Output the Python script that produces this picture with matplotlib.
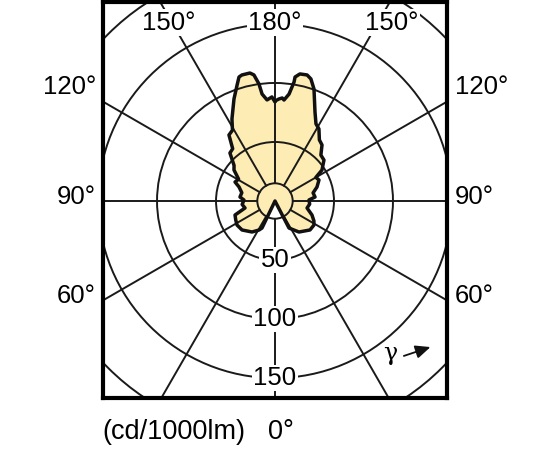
import matplotlib.pyplot as plt
from matplotlib.patches import Circle, Polygon
import numpy as np

plt.rcParams['font.family'] = ['Liberation Sans', 'DejaVu Sans']

# luminous intensity (cd/1000lm) vs gamma
right_gamma = [0, 27.4, 37.7, 50.4, 58.4, 63, 69.3, 77.7, 85, 91.7, 95.7, 102, 108.4, 115.5,
               120, 123.4, 129.9, 135, 140, 144, 148.6, 152, 155.8, 160.8, 163.6, 165.7,
               168.9, 170.8, 170.9, 172.5, 174.9, 176, 177.8, 180]
right_I = [0, 25.8, 33.2, 38.5, 38.8, 37.0, 33.5, 27.8, 29.5, 28.8, 34.1, 33.0, 37.5, 41.3,
           40.0, 47.7, 54.1, 55.0, 62, 64.0, 71.5, 74.0, 82.7, 100.5, 107.8, 110.2,
           109.7, 106.4, 102.1, 91.4, 85.9, 87.5, 86.5, 84.7]
left_gamma = [0, 25.7, 28.9, 36.6, 48.7, 57.7, 64, 70.7, 76.9, 84, 91.8, 96.5, 104, 111.3,
              115.4, 121, 127.1, 131, 136.8, 141, 145.1, 149, 152.3, 158.1, 161.9, 163.8,
              165.3, 168.9, 170.5, 172.2, 173.1, 175.5, 178.3, 180]
left_I = [0, 25.4, 28.1, 32.7, 37.2, 38.1, 37.0, 35.9, 26.1, 28.0, 26.3, 29.9, 29.0, 32.7,
          37.5, 36.0, 43.6, 46.0, 55.8, 57.0, 68.2, 70.0, 78.5, 93.2, 103.4, 109.4,
          110.4, 110.5, 108.3, 100.1, 91.3, 85.9, 88.2, 83.9]

rings = [50, 100, 150, 200]
ring_labels = ['50', '100', '150']
hub = 15
spoke_angles = np.arange(0, 360, 30)

fs = 18.5

fig = plt.figure(figsize=(5.5, 4.5), dpi=100)
ax = fig.add_axes([103 / 550, 1 - 398 / 450, 344 / 550, 396 / 450])
ax.set_xlim(-145.8, 145.8)
ax.set_ylim(-166.9, 168.6)
ax.set_xticks([])
ax.set_yticks([])
for s in ax.spines.values():
    s.set_linewidth(3)
    s.set_zorder(10)

# curve, 0 deg pointing down
g_r = np.radians(right_gamma)
g_l = np.radians(left_gamma)
xr = np.array(right_I) * np.sin(g_r)
yr = -np.array(right_I) * np.cos(g_r)
xl = -np.array(left_I) * np.sin(g_l)
yl = -np.array(left_I) * np.cos(g_l)
xs = np.concatenate([xr, xl[::-1]])
ys = np.concatenate([yr, yl[::-1]])
ax.add_patch(Polygon(np.column_stack([xs, ys]), closed=True, facecolor='#fdecb4',
                     edgecolor='none', zorder=1))

# grid
for r in rings:
    ax.add_patch(Circle((0, 0), r, fill=False, edgecolor='#1a1a1a', lw=1.4, zorder=3))
ax.add_patch(Circle((0, 0), hub, fill=False, edgecolor='#1a1a1a', lw=1.4, zorder=3))
for a in spoke_angles:
    t = np.radians(a)
    ax.plot([hub * np.sin(t), 300 * np.sin(t)], [-hub * np.cos(t), -300 * np.cos(t)],
            color='#1a1a1a', lw=1.4, zorder=3)

ax.add_patch(Polygon(np.column_stack([xs, ys]), closed=True, fill=False,
                     edgecolor='#111111', lw=2.5, joinstyle='round', zorder=4))

box = dict(facecolor='white', edgecolor='none', pad=1.0)
for r, lab in zip(rings, ring_labels):
    ax.text(0, -r, lab, ha='center', va='center', fontsize=fs, bbox=box, zorder=6)
ax.text(0, 151, '180°', ha='center', va='center', fontsize=fs, bbox=box, zorder=6)
ax.text(-90, 151, '150°', ha='center', va='center', fontsize=fs, bbox=box, zorder=6)
ax.text(99, 151, '150°', ha='center', va='center', fontsize=fs, bbox=box, zorder=6)

ax.text(98, -129, 'γ', ha='center', va='center', fontsize=17, family='DejaVu Serif',
        zorder=6)
ax.annotate('', xy=(134, -123), xytext=(107, -132),
            arrowprops=dict(arrowstyle='-|>,head_length=0.9,head_width=0.4',
                            color='#111111', lw=1.3), zorder=6)

for lab, y in zip(['120°', '90°', '60°'], [87, 197, 296]):
    fig.text(96 / 550, 1 - y / 450, lab, ha='right', va='center', fontsize=fs)
    fig.text(455 / 550, 1 - y / 450, lab, ha='left', va='center', fontsize=fs)

fig.text(102 / 550, 1 - 432 / 450, '(cd/1000lm)', ha='left', va='center', fontsize=19.5)
fig.text(281 / 550, 1 - 432 / 450, '0°', ha='center', va='center', fontsize=19.5)

fig.savefig('out.png', dpi=100)
